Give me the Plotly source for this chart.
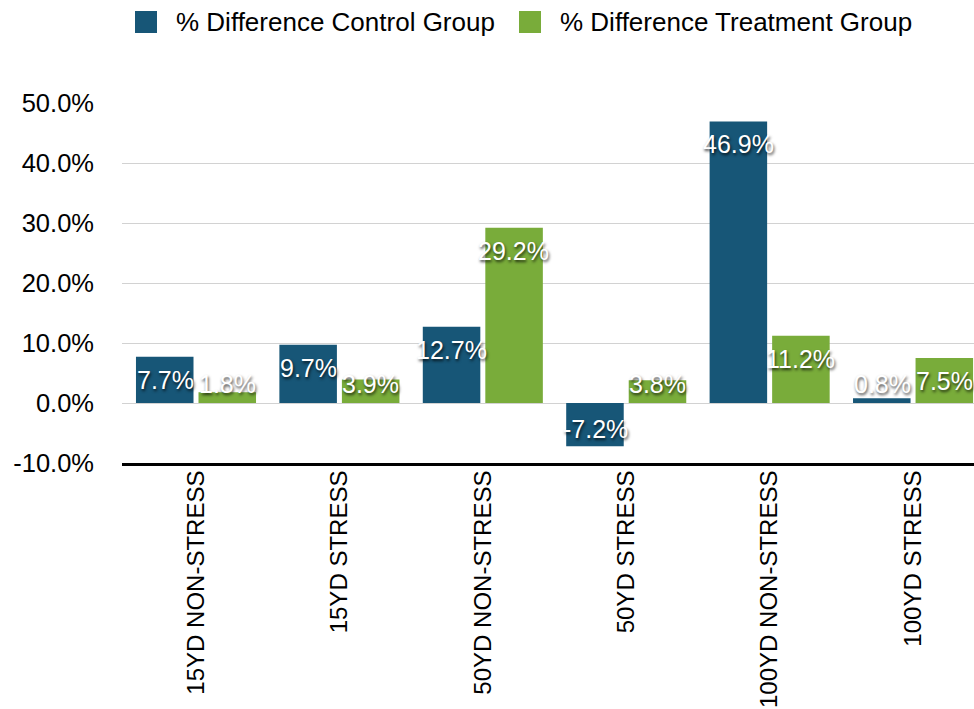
import plotly.graph_objects as go

# ---- data -------------------------------------------------------------
categories = ["15YD NON-STRESS", "15YD STRESS", "50YD NON-STRESS",
              "50YD STRESS", "100YD NON-STRESS", "100YD STRESS"]
control_pct = [7.7, 9.7, 12.7, -7.2, 46.9, 0.8]
treatment_pct = [1.8, 3.9, 29.2, 3.8, 11.2, 7.5]
series_names = ["% Difference Control Group", "% Difference Treatment Group"]
y_tick_vals = [-10, 0, 10, 20, 30, 40, 50]
y_tick_text = ["-10.0%", "0.0%", "10.0%", "20.0%", "30.0%", "40.0%", "50.0%"]

# ---- styling ----------------------------------------------------------
W, H = 974, 709
M_L, M_R, M_T, M_B = 122, 0, 103, 246
BLUE = "#175677"
GREEN = "#79ac3a"
FONT = "Liberation Sans, Arial, Helvetica, sans-serif"
SHADOW = "1px 2px 3px rgba(0,0,0,0.75)"
BAR_OFFSET_PX = 31  # horizontal distance of each bar centre from category centre

plot_w = W - M_L - M_R
plot_h = H - M_T - M_B


def px_x(x):
    return (x - M_L) / plot_w


def px_y(y):
    return (H - M_B - y) / plot_h


fig = go.Figure()
for name, vals, col in [(series_names[0], control_pct, BLUE),
                        (series_names[1], treatment_pct, GREEN)]:
    fig.add_trace(go.Bar(x=categories, y=vals, name=name,
                         marker=dict(color=col, line=dict(width=0)),
                         showlegend=False, hoverinfo="x+y"))

# value labels: white text with a drop shadow, tucked inside the top of each bar
annotations = []
for vals, shift in [(control_pct, -BAR_OFFSET_PX), (treatment_pct, BAR_OFFSET_PX)]:
    for cat, v in zip(categories, vals):
        ly = max(v - 3.8, 3.1) if v >= 0 else v + 2.9
        annotations.append(dict(
            x=cat, y=ly, xref="x", yref="y", xshift=shift,
            text=f"{v:.1f}%", showarrow=False,
            xanchor="center", yanchor="middle",
            font=dict(family=FONT, size=25, color="white", shadow=SHADOW)))

# legend drawn at the top: square swatches followed by the series names
shapes = []
legend_items = [(135, 174, BLUE, series_names[0]),
                (519, 558, GREEN, series_names[1])]
for sx, tx, col, name in legend_items:
    shapes.append(dict(type="rect", xref="paper", yref="paper",
                       x0=px_x(sx), x1=px_x(sx + 22),
                       y0=px_y(33), y1=px_y(11),
                       fillcolor=col, line=dict(width=0), layer="above"))
    annotations.append(dict(x=px_x(tx), y=px_y(22), xref="paper", yref="paper",
                            text=name, showarrow=False,
                            xanchor="left", yanchor="middle",
                            font=dict(family=FONT, size=26, color="black")))

fig.update_layout(
    width=W, height=H,
    margin=dict(l=M_L, r=M_R, t=M_T, b=M_B, pad=0, autoexpand=False),
    paper_bgcolor="white", plot_bgcolor="white",
    barmode="group", bargap=0.128, bargroupgap=0.08,
    font=dict(family=FONT, color="black"),
    annotations=annotations, shapes=shapes,
    showlegend=False,
)
fig.update_xaxes(
    type="category", range=[-0.516, 5.425], automargin=False,
    tickangle=-90, tickfont=dict(size=24, color="black"),
    showgrid=False, showline=True, linecolor="black", linewidth=3,
    ticks="", ticklabelstandoff=-5,
)
fig.update_yaxes(
    range=[-10, 50], tickvals=y_tick_vals, ticktext=y_tick_text,
    automargin=False,
    tickfont=dict(size=25.5, color="black"),
    showgrid=True, gridcolor="#d2d2d2", gridwidth=1,
    zeroline=True, zerolinecolor="#d2d2d2", zerolinewidth=1,
    showline=False, ticks="", ticklabelstandoff=27,
)

fig.write_html("out.html")
